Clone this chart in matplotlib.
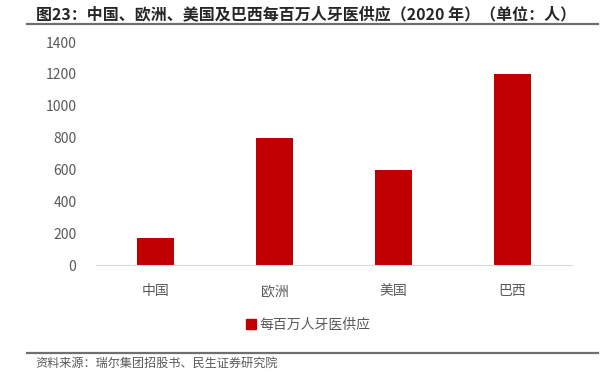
import matplotlib
matplotlib.use("Agg")
import matplotlib.pyplot as plt
from matplotlib.lines import Line2D

plt.rcParams["font.family"] = ["Noto Sans CJK SC", "DejaVu Sans"]

categories = ["中国", "欧洲", "美国", "巴西"]
values = [170, 800, 600, 1200]
yticks = [0, 200, 400, 600, 800, 1000, 1200, 1400]

RED = "#c00000"
GREY = "#595959"

fig = plt.figure(figsize=(6.15, 3.73), dpi=100)
ax = fig.add_axes([0.156, 0.2895, 0.774, 0.5975])

x = range(len(categories))
ax.bar(x, values, width=0.31, color=RED, label="每百万人牙医供应")
ax.set_xlim(-0.5, len(categories) - 0.5)
ax.set_ylim(0, 1400)
ax.set_yticks(yticks)
ax.set_xticks(list(x))
ax.set_xticklabels(categories)
for s in ("top", "right", "left"):
    ax.spines[s].set_visible(False)
ax.spines["bottom"].set_color("#d9d9d9")
ax.tick_params(axis="both", length=0, colors=GREY, labelsize=10)
ax.tick_params(axis="x", pad=14)
ax.tick_params(axis="y", pad=14)

handle = Line2D([], [], marker="s", ls="", color=RED, markersize=7)
fig.legend([handle], ["每百万人牙医供应"], loc="center", bbox_to_anchor=(0.5, 0.128),
           frameon=False, fontsize=10, labelcolor=GREY, handletextpad=0.1, handlelength=1)

# title + rules
fig.text(0.058, 0.962, "图23：中国、欧洲、美国及巴西每百万人牙医供应（2020 年）（单位：人）",
         fontsize=11.5, fontweight="bold", color="#262626", va="center")
fig.add_artist(Line2D([0.044, 0.972], [0.936, 0.936], color="#6f6f6f", lw=1.6))
fig.add_artist(Line2D([0.044, 0.972], [0.054, 0.054], color="#6f6f6f", lw=1.6))
fig.text(0.057, 0.027, "资料来源：瑞尔集团招股书、民生证券研究院", fontsize=8.7, color=GREY, va="center")

fig.savefig("out.png", dpi=100)
